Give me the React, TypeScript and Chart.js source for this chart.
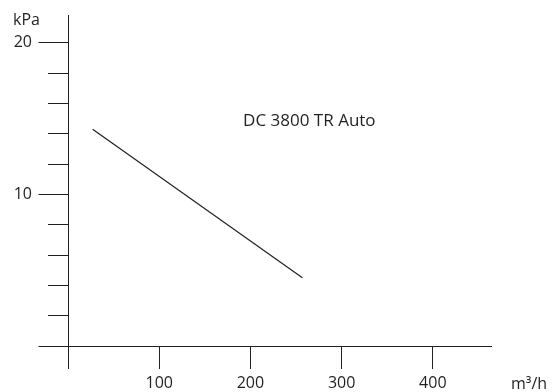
import React, { useEffect, useRef } from "react";
import { Chart, registerables } from "chart.js";

Chart.register(...registerables);

// ---- data ----
const flowValues = [27, 257]; // m³/h
const pressureValues = [14.3, 4.5]; // kPa
const seriesLabel = "DC 3800 TR Auto";
const xTickValues = [100, 200, 300, 400];
const yLabelledTicks = [10, 20];
const xUnit = "m³/h";
const yUnit = "kPa";
const labelAnchor = { x: 192, y: 14.5 }; // data coords of the series label

const INK = "#231f20";
const FONT = '"Open Sans", "DejaVu Sans", sans-serif';

export default function App() {
  const ref = useRef<HTMLCanvasElement | null>(null);

  useEffect(() => {
    const canvas = ref.current;
    if (!canvas) return;

    const extras = {
      id: "extras",
      afterDraw(chart: any) {
        const { ctx, scales } = chart;
        const xs = scales.x;
        const ys = scales.y;
        const x0 = Math.round(xs.getPixelForValue(0) - 0.5) + 0.5;
        const y0 = Math.round(ys.getPixelForValue(0) - 0.5) + 0.5;
        ctx.save();
        ctx.strokeStyle = INK;
        ctx.lineWidth = 1;
        ctx.beginPath();
        // x axis continues left of the y axis
        ctx.moveTo(x0 - 30, y0);
        ctx.lineTo(x0, y0);
        // longer ticks at labelled values
        for (const v of yLabelledTicks) {
          const py = Math.round(ys.getPixelForValue(v) - 0.5) + 0.5;
          ctx.moveTo(x0 - 30, py);
          ctx.lineTo(x0 - 20, py);
        }
        ctx.stroke();

        ctx.fillStyle = INK;
        ctx.textBaseline = "alphabetic";
        ctx.textAlign = "left";
        ctx.font = `16px ${FONT}`;
        ctx.fillText(yUnit, 13, 25);
        ctx.fillText(xUnit, 511, 389);
        ctx.font = `17px ${FONT}`;
        ctx.fillText(
          seriesLabel,
          xs.getPixelForValue(labelAnchor.x),
          ys.getPixelForValue(labelAnchor.y)
        );
        ctx.restore();
      },
    };

    const chart = new Chart(canvas, {
      type: "scatter",
      data: {
        datasets: [
          {
            label: seriesLabel,
            data: flowValues.map((x, i) => ({ x, y: pressureValues[i] })),
            showLine: true,
            borderColor: INK,
            borderWidth: 1.2,
            pointRadius: 0,
            fill: false,
          },
        ],
      },
      options: {
        responsive: false,
        animation: false,
        devicePixelRatio: 1,
        layout: {
          autoPadding: false,
          padding: { left: 0, right: 62, top: 15, bottom: 0 },
        },
        plugins: {
          legend: { display: false },
          tooltip: { enabled: false },
          title: { display: false },
        },
        scales: {
          x: {
            type: "linear",
            position: "bottom",
            min: 0,
            max: 463.8,
            afterFit(scale: any) {
              scale.height = 46;
              scale.paddingLeft = 0;
              scale.paddingRight = 0;
            },
            afterBuildTicks(scale: any) {
              scale.ticks = [0, ...xTickValues].map((v) => ({ value: v }));
            },
            ticks: {
              includeBounds: false,
              stepSize: 100,
              padding: 5,
              color: INK,
              font: { family: FONT, size: 16 },
              maxRotation: 0,
              autoSkip: false,
              callback: (v: any) => (xTickValues.includes(Number(v)) ? String(v) : ""),
            },
            grid: {
              drawOnChartArea: false,
              drawTicks: true,
              tickLength: 23,
              tickColor: INK,
              tickWidth: 1,
            },
            border: { display: true, color: INK, width: 1 },
          },
          y: {
            type: "linear",
            position: "left",
            min: 0,
            max: 21.83,
            afterFit(scale: any) {
              scale.width = 68;
              scale.paddingTop = 0;
              scale.paddingBottom = 0;
            },
            ticks: {
              includeBounds: false,
              stepSize: 2,
              padding: 16,
              color: INK,
              font: { family: FONT, size: 16 },
              autoSkip: false,
              callback: (v: any) => (yLabelledTicks.includes(Number(v)) ? String(v) : ""),
            },
            grid: {
              drawOnChartArea: false,
              drawTicks: true,
              tickLength: 20,
              tickColor: INK,
              tickWidth: 1,
            },
            border: { display: true, color: INK, width: 1 },
          },
        },
      },
      plugins: [extras],
    } as any);

    return () => chart.destroy();
  }, []);

  return (
    <div style={{ position: "absolute", left: 0, top: 0, width: 553, height: 392, background: "#fff" }}>
      <canvas ref={ref} width={553} height={392} />
    </div>
  );
}
